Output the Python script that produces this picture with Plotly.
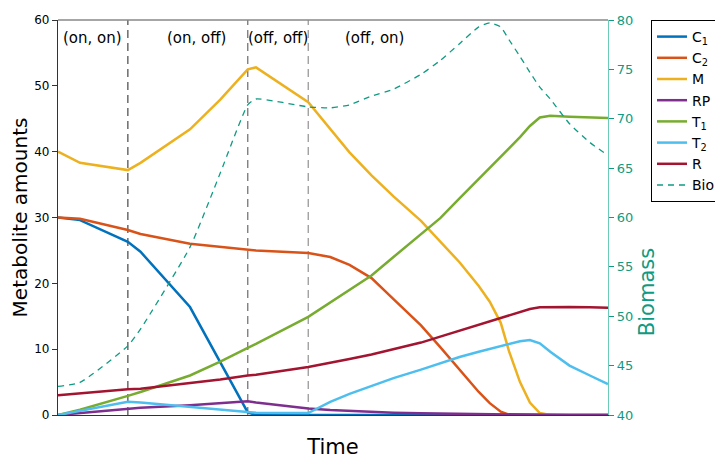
import plotly.graph_objects as go

# Time grid (arbitrary units, no tick labels in the original)
time = [0, 4, 12.7, 15, 24, 29.5, 34.5, 36, 45.5, 49.5, 53, 57, 61, 66, 69.5, 73,
        76.5, 78.5, 80.5, 82, 84, 85.8, 87.6, 89.5, 93, 96.7, 100]

C1 = [30, 29.6, 26.3, 24.8, 16.4, 8.1, 0.4, 0, 0, 0, 0, 0, 0, 0, 0, 0,
      0, 0, 0, 0, 0, 0, 0, 0, 0, 0, 0]
C2 = [30, 29.8, 28.1, 27.5, 26.0, 25.5, 25.1, 25.0, 24.6, 24.0, 22.8, 20.8, 17.6, 13.6, 10.3, 6.9,
      3.5, 1.8, 0.5, 0.05, 0, 0, 0, 0, 0, 0, 0]
M = [40, 38.3, 37.2, 38.3, 43.4, 47.9, 52.5, 52.8, 47.5, 43.5, 39.9, 36.4, 33.2, 29.5, 26.4, 23.2,
     19.6, 17.2, 14.0, 9.7, 5.0, 1.9, 0.3, 0, 0, 0, 0]
RP = [0, 0.3, 1.0, 1.1, 1.5, 1.8, 2.1, 1.9, 1.0, 0.75, 0.6, 0.45, 0.35, 0.25, 0.2, 0.15,
      0.1, 0.08, 0.06, 0.05, 0.04, 0.03, 0.02, 0.02, 0.01, 0.01, 0]
T1 = [0, 0.8, 2.9, 3.5, 6.0, 8.1, 10.2, 10.8, 14.9, 17.1, 19.1, 21.2, 24.0, 27.4, 29.9, 32.9,
      35.8, 37.5, 39.2, 40.5, 42.2, 43.9, 45.2, 45.45, 45.3, 45.2, 45.1]
T2 = [0, 0.6, 2.0, 1.9, 1.2, 0.8, 0.4, 0.35, 0.3, 2.0, 3.2, 4.4, 5.6, 6.9, 7.9, 8.8,
      9.6, 10.0, 10.4, 10.8, 11.2, 11.4, 10.9, 9.6, 7.5, 6.0, 4.7]
R = [3.0, 3.3, 3.9, 4.0, 4.8, 5.4, 6.0, 6.1, 7.3, 7.9, 8.5, 9.2, 10.0, 11.0, 11.9, 12.8,
     13.7, 14.2, 14.7, 15.2, 15.7, 16.1, 16.35, 16.4, 16.4, 16.35, 16.3]
Bio = [42.9, 43.3, 47.0, 48.7, 57.0, 64.5, 71.4, 72.0, 71.2, 71.1, 71.4, 72.3, 73.0, 74.5, 75.9, 77.6,
       79.3, 79.7, 79.3, 78.0, 76.3, 74.7, 73.2, 72.0, 69.5, 67.6, 66.3]

phase_times = [12.7, 34.5, 45.5]
phase_labels = ["(on, on)", "(on, off)", "(off, off)", "(off, on)"]
phase_label_x = [6.2, 25.2, 40.0, 57.5]

series = [
    ("C<sub>1</sub>", C1, "#0072BD"),
    ("C<sub>2</sub>", C2, "#D95319"),
    ("M", M, "#EDB120"),
    ("RP", RP, "#7E2F8E"),
    ("T<sub>1</sub>", T1, "#77AC30"),
    ("T<sub>2</sub>", T2, "#4DBEEE"),
    ("R", R, "#A2142F"),
]

teal = "#0F9B82"
fig = go.Figure()
for name, vals, col in series:
    fig.add_trace(go.Scatter(x=time, y=vals, mode="lines", name=name,
                             line=dict(color=col, width=2.5)))
fig.add_trace(go.Scatter(x=time, y=Bio, mode="lines", name="Bio", yaxis="y2",
                         line=dict(color=teal, width=1.3, dash="6px,5px", shape="spline", smoothing=0.5)))

shapes = []
for i, t in enumerate(phase_times):
    shapes.append(dict(type="line", xref="x", yref="paper", x0=t, x1=t, y0=0, y1=1,
                       line=dict(color=["#555555", "#777777", "#999999"][i], width=1.3, dash="8px,5px"),
                       layer="below"))
shapes.append(dict(type="line", xref="paper", yref="paper", x0=0, x1=1, y0=1, y1=1,
                   line=dict(color="#888888", width=1.3)))

annotations = []
for lab, xx in zip(phase_labels, phase_label_x):
    annotations.append(dict(x=xx, y=57.2, xref="x", yref="y", text=lab, showarrow=False,
                            font=dict(size=15, color="black", family="DejaVu Sans")))
# right axis title (sits below the axis middle in the reference)
annotations.append(dict(x=1.0709, y=0.311, xref="paper", yref="paper", text="Biomass",
                        textangle=-90, showarrow=False, xanchor="center", yanchor="middle",
                        font=dict(size=21, color=teal, family="DejaVu Sans")))

# page body adds an 8px offset; size the figure so the plot area lands where the reference has it
fig.update_layout(
    width=715, height=451,
    margin=dict(l=50, r=115, t=12, b=44, autoexpand=False),
    paper_bgcolor="white", plot_bgcolor="white",
    font=dict(family="DejaVu Sans", color="black"),
    shapes=shapes, annotations=annotations,
    xaxis=dict(range=[0, 100], showticklabels=False, ticks="", showgrid=False, zeroline=False,
               showline=True, linecolor="#333333", linewidth=1.3, automargin=False,
               title=dict(text="Time", font=dict(size=21), standoff=27)),
    yaxis=dict(range=[0, 60], tickvals=[0, 10, 20, 30, 40, 50, 60], ticks="outside", ticklen=5,
               tickcolor="#333333", showgrid=False, zeroline=False, showline=True, automargin=False,
               linecolor="#333333", linewidth=1.3, tickfont=dict(size=12),
               title=dict(text="Metabolite amounts", font=dict(size=20), standoff=1)),
    yaxis2=dict(range=[40, 80], tickvals=[40, 45, 50, 55, 60, 65, 70, 75, 80], overlaying="y",
                side="right", ticks="outside", ticklen=5, tickcolor=teal, showgrid=False,
                zeroline=False, showline=True, linecolor="#6CCAB8", linewidth=1.3, automargin=False,
                tickfont=dict(size=13, color=teal)),
    legend=dict(x=(713 - 50) / 550, y=1.0, xanchor="right", yanchor="top", bordercolor="black",
                borderwidth=1, bgcolor="white", font=dict(size=14), tracegroupgap=0, itemwidth=30),
    showlegend=True,
)

fig.write_html("out.html")
